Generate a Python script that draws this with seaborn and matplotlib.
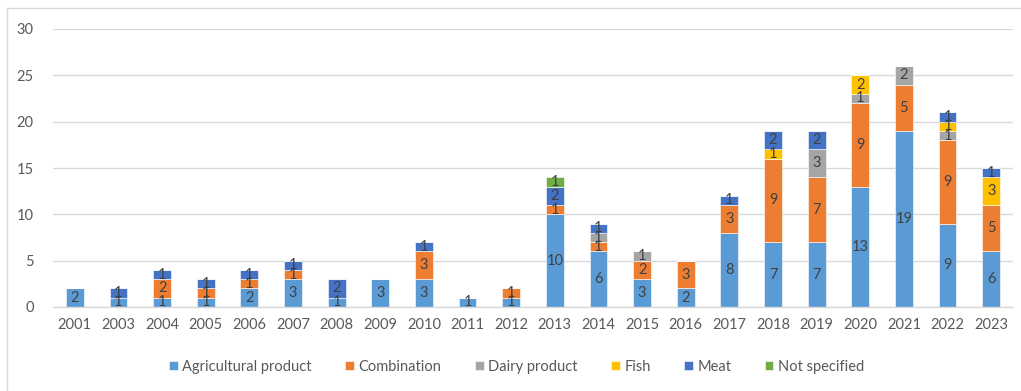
import numpy as np
import pandas as pd
import matplotlib
matplotlib.use("Agg")
import matplotlib.pyplot as plt
from matplotlib.patches import Rectangle
import seaborn as sns

years = ["2001", "2003", "2004", "2005", "2006", "2007", "2008", "2009", "2010", "2011", "2012",
         "2013", "2014", "2015", "2016", "2017", "2018", "2019", "2020", "2021", "2022", "2023"]
agricultural = [2, 1, 1, 1, 2, 3, 1, 3, 3, 1, 1, 10, 6, 3, 2, 8, 7, 7, 13, 19, 9, 6]
combination  = [0, 0, 2, 1, 1, 1, 0, 0, 3, 0, 1, 1, 1, 2, 3, 3, 9, 7, 9, 5, 9, 5]
dairy        = [0, 0, 0, 0, 0, 0, 0, 0, 0, 0, 0, 0, 1, 1, 0, 0, 0, 3, 1, 2, 1, 0]
fish         = [0, 0, 0, 0, 0, 0, 0, 0, 0, 0, 0, 0, 0, 0, 0, 0, 1, 0, 2, 0, 1, 3]
meat         = [0, 1, 1, 1, 1, 1, 2, 0, 1, 0, 0, 2, 1, 0, 0, 1, 2, 2, 0, 0, 1, 1]
not_specified = [0, 0, 0, 0, 0, 0, 0, 0, 0, 0, 0, 1, 0, 0, 0, 0, 0, 0, 0, 0, 0, 0]

series = [
    ("Agricultural product", agricultural, "#5B9BD5"),
    ("Combination", combination, "#ED7D31"),
    ("Dairy product", dairy, "#A5A5A5"),
    ("Fish", fish, "#FFC000"),
    ("Meat", meat, "#4472C4"),
    ("Not specified", not_specified, "#70AD47"),
]

sns.set_theme(style="white")
plt.rcParams["font.family"] = ["Lato", "DejaVu Sans"]

fig = plt.figure(figsize=(10.21, 3.91), dpi=100)
ax = fig.add_axes([53 / 1021, (391 - 307) / 391, 960 / 1021, (307 - 29) / 391])

bottom = np.zeros(len(years))
for name, vals, color in series:
    df = pd.DataFrame({"year": years, "count": vals})
    sns.barplot(data=df, x="year", y="count", color=color, bottom=bottom,
                width=0.41, ax=ax, label=name, edgecolor="#FFFFFF", linewidth=0.4,
                saturation=1)
    for i, v in enumerate(vals):
        if v > 0:
            ax.text(i, bottom[i] + v / 2, str(v), ha="center", va="center",
                    fontsize=10.5, color="#404040")
    bottom = bottom + np.array(vals)

ax.set_xlim(-0.5, len(years) - 0.5)
ax.set_ylim(0, 30)
ax.set_yticks(range(0, 31, 5))
ax.yaxis.grid(True, color="#D9D9D9", linewidth=1)
ax.set_axisbelow(True)
for s in ["top", "right", "left"]:
    ax.spines[s].set_visible(False)
ax.spines["bottom"].set_color("#D9D9D9")
ax.spines["bottom"].set_linewidth(1)
ax.tick_params(axis="both", length=0, labelsize=10.5, colors="#595959", pad=8)
ax.tick_params(axis="y", pad=14)
ax.set_xlabel("")
ax.set_ylabel("")

handles, labels = ax.get_legend_handles_labels()
leg = fig.legend(handles, labels, loc="center", bbox_to_anchor=(0.506, 1 - 367 / 391),
                 ncol=6, frameon=False, fontsize=10.5, handlelength=0.6, handleheight=0.6,
                 handletextpad=0.3, columnspacing=2.3)
for t in leg.get_texts():
    t.set_color("#595959")
if ax.legend_:
    ax.legend_.remove()

fig.patches.append(Rectangle((7 / 1021, -0.2), 1.2, 1.2 - 8 / 391, transform=fig.transFigure,
                             fill=False, edgecolor="#D9D9D9", linewidth=1))

fig.savefig("out.png", dpi=100)
